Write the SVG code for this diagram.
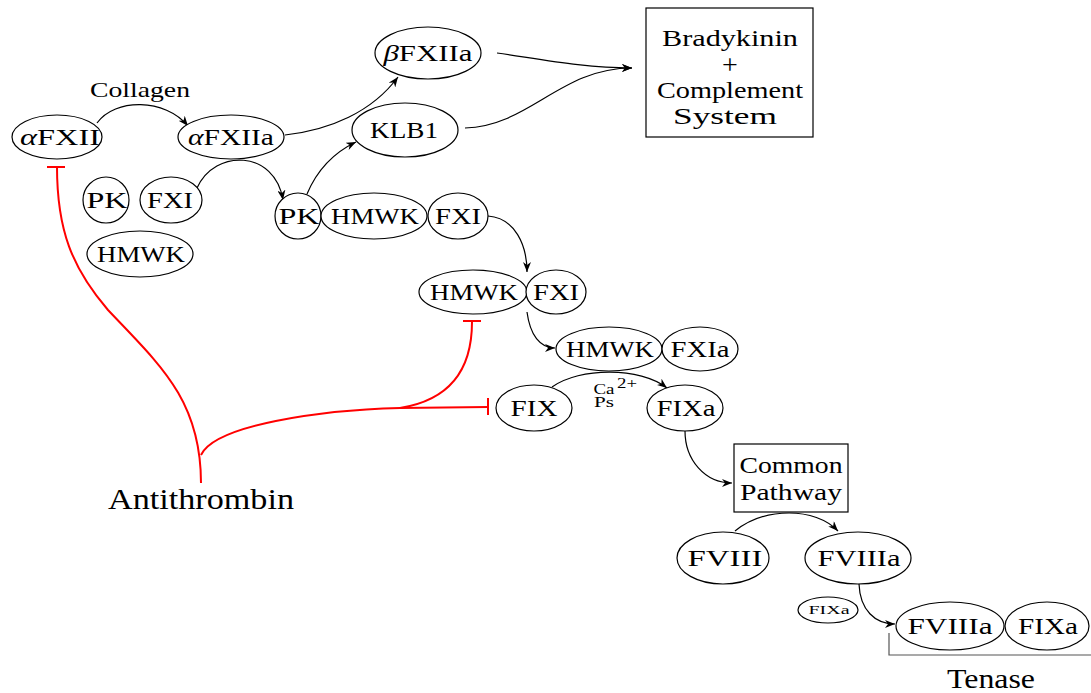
<svg xmlns="http://www.w3.org/2000/svg" width="1091" height="693" viewBox="0 0 1091 693">
<style>
  .n ellipse { fill: #fff; stroke: #000; stroke-width: 1.2; }
  .box { fill: #fff; stroke: #000; stroke-width: 1.2; }
  text { font-family: "Liberation Serif", "Times New Roman", serif; fill: #000; }
  .t { font-size: 23px; text-anchor: middle; }
  .s { font-size: 14px; text-anchor: middle; }
  .e { fill: none; stroke: #000; stroke-width: 1.2; marker-end: url(#arr); }
  .r { fill: none; stroke: #ff0000; stroke-width: 2; }
  .it { font-style: italic; }
</style>
<defs>
  <marker id="arr" viewBox="0 0 10 8" refX="10" refY="4" markerWidth="10" markerHeight="8" markerUnits="userSpaceOnUse" orient="auto">
    <path d="M0,0 L10,4 L0,8 L3,4 Z" fill="#000"/>
  </marker>
</defs>
<rect width="1091" height="693" fill="#fff"/>

<g id="connectors">
  <path class="e" d="M97,123 C115,98 165,98 188,126"/>
  <path class="e" d="M285,135 C330,130 372,112 398,77"/>
  <path class="e" d="M197,188 C215,148 275,150 283,200"/>
  <path class="e" d="M307,194 C318,168 335,152 356,142"/>
  <path class="e" d="M497,53 C545,60 585,68 632,68"/>
  <path class="e" d="M465,128 C530,126 560,68 632,68"/>
  <path class="e" d="M488,216 C515,218 527,245 527,272"/>
  <path class="e" d="M527,312 C530,335 540,348 555,348"/>
  <path class="e" d="M552,387 C580,367 640,367 667,388"/>
  <path class="e" d="M685,431 C685,460 705,483 732,483"/>
  <path class="e" d="M735,531 C765,507 815,507 838,531"/>
  <path class="e" d="M859,584 C860,610 875,624 895,624"/>
  <g id="inhibitors">
    <path class="r" d="M57,167 C57,230 72,268 108,310 C160,365 201,400 201,483"/>
    <path class="r" d="M47,167 L65,167"/>
    <path class="r" d="M201,455 C215,425 320,410 400,408 L488,407"/>
    <path class="r" d="M488,398 L488,415"/>
    <path class="r" d="M400,408 C450,400 472,370 472,322"/>
    <path class="r" d="M463,321 L481,321"/>
  </g>
  <path d="M889,633 L889,655 L1091,655" fill="none" stroke="#555" stroke-width="1.2"/>
</g>

<g id="aFXII" class="n"><ellipse cx="57" cy="137" rx="45" ry="22"/><text class="t" x="60" y="145" textLength="80" lengthAdjust="spacingAndGlyphs"><tspan class="it">α</tspan>FXII</text></g>
<g id="aFXIIa" class="n"><ellipse cx="231" cy="137" rx="53" ry="22"/><text class="t" x="231" y="145" textLength="86" lengthAdjust="spacingAndGlyphs"><tspan class="it">α</tspan>FXIIa</text></g>
<g id="collagen"><text class="t" x="140" y="97" style="font-size:21px" textLength="100" lengthAdjust="spacingAndGlyphs">Collagen</text></g>
<g id="PK1" class="n"><ellipse cx="106" cy="200" rx="23" ry="23"/><text class="t" x="107" y="208" textLength="41" lengthAdjust="spacingAndGlyphs">PK</text></g>
<g id="FXI1" class="n"><ellipse cx="171" cy="200" rx="31" ry="23"/><text class="t" x="170" y="208" textLength="46" lengthAdjust="spacingAndGlyphs">FXI</text></g>
<g id="HMWK1" class="n"><ellipse cx="140" cy="254" rx="53" ry="23"/><text class="t" x="141" y="262" textLength="88" lengthAdjust="spacingAndGlyphs">HMWK</text></g>
<g id="bFXIIa" class="n"><ellipse cx="428" cy="53" rx="53" ry="26"/><text class="t" x="428" y="61" textLength="89" lengthAdjust="spacingAndGlyphs"><tspan class="it">β</tspan>FXIIa</text></g>
<g id="KLB1" class="n"><ellipse cx="405" cy="130" rx="53" ry="27"/><text class="t" x="404" y="138" textLength="68" lengthAdjust="spacingAndGlyphs">KLB1</text></g>
<g id="PK2" class="n"><ellipse cx="298" cy="216" rx="23" ry="23"/><text class="t" x="299" y="224" textLength="41" lengthAdjust="spacingAndGlyphs">PK</text></g>
<g id="HMWK2" class="n"><ellipse cx="374" cy="216" rx="53" ry="23"/><text class="t" x="375" y="224" textLength="88" lengthAdjust="spacingAndGlyphs">HMWK</text></g>
<g id="FXI2" class="n"><ellipse cx="458" cy="216" rx="30" ry="23"/><text class="t" x="458" y="224" textLength="46" lengthAdjust="spacingAndGlyphs">FXI</text></g>
<g id="bradykinin">
  <rect class="box" x="646" y="8" width="167" height="129"/>
  <text class="t" x="730" y="46" textLength="136" lengthAdjust="spacingAndGlyphs">Bradykinin</text>
  <text class="t" x="730" y="74" style="font-size:28px;font-weight:300">+</text>
  <text class="t" x="730" y="98" textLength="146" lengthAdjust="spacingAndGlyphs">Complement</text>
  <text class="t" x="725" y="124" textLength="104" lengthAdjust="spacingAndGlyphs">System</text>
</g>
<g id="HMWK3" class="n"><ellipse cx="473" cy="292" rx="54" ry="22"/><text class="t" x="474" y="300" textLength="88" lengthAdjust="spacingAndGlyphs">HMWK</text></g>
<g id="FXI3" class="n"><ellipse cx="556" cy="292" rx="30" ry="22"/><text class="t" x="556" y="300" textLength="46" lengthAdjust="spacingAndGlyphs">FXI</text></g>
<g id="HMWK4" class="n"><ellipse cx="609" cy="349" rx="53" ry="22"/><text class="t" x="610" y="357" textLength="88" lengthAdjust="spacingAndGlyphs">HMWK</text></g>
<g id="FXIa" class="n"><ellipse cx="700" cy="349" rx="38" ry="22"/><text class="t" x="700" y="357" textLength="59" lengthAdjust="spacingAndGlyphs">FXIa</text></g>
<g id="FIX" class="n"><ellipse cx="534" cy="408" rx="38" ry="23"/><text class="t" x="534" y="416" textLength="47" lengthAdjust="spacingAndGlyphs">FIX</text></g>
<g id="FIXa" class="n"><ellipse cx="685" cy="408" rx="38" ry="23"/><text class="t" x="686" y="416" textLength="59" lengthAdjust="spacingAndGlyphs">FIXa</text></g>
<g id="cofactors">
  <text class="s" x="604" y="394" textLength="21" lengthAdjust="spacingAndGlyphs">Ca</text>
  <text class="s" x="627" y="388" textLength="20" lengthAdjust="spacingAndGlyphs">2+</text>
  <text class="s" x="604" y="407" textLength="20" lengthAdjust="spacingAndGlyphs">Ps</text>
</g>
<g id="common">
  <rect class="box" x="734" y="444" width="114" height="68"/>
  <text class="t" x="791" y="473" textLength="103" lengthAdjust="spacingAndGlyphs">Common</text>
  <text class="t" x="791" y="500" textLength="102" lengthAdjust="spacingAndGlyphs">Pathway</text>
</g>
<g id="FVIII" class="n"><ellipse cx="723" cy="558" rx="46" ry="26"/><text class="t" x="725" y="566" textLength="75" lengthAdjust="spacingAndGlyphs">FVIII</text></g>
<g id="FVIIIa" class="n"><ellipse cx="858" cy="558" rx="53" ry="26"/><text class="t" x="859" y="566" textLength="83" lengthAdjust="spacingAndGlyphs">FVIIIa</text></g>
<g id="FIXa_small" class="n"><ellipse cx="828" cy="610" rx="30" ry="13"/><text class="s" x="829" y="614" style="font-size:12px" textLength="41" lengthAdjust="spacingAndGlyphs">FIXa</text></g>
<g id="FVIIIa2" class="n"><ellipse cx="950" cy="626" rx="54" ry="24"/><text class="t" x="950" y="634" textLength="85" lengthAdjust="spacingAndGlyphs">FVIIIa</text></g>
<g id="FIXa2" class="n"><ellipse cx="1047" cy="626" rx="42" ry="24"/><text class="t" x="1048" y="634" textLength="60" lengthAdjust="spacingAndGlyphs">FIXa</text></g>
<g id="tenase"><text class="t" x="991" y="688" style="font-size:28px" textLength="88" lengthAdjust="spacingAndGlyphs">Tenase</text></g>
<g id="antithrombin"><text class="t" x="201" y="509" style="font-size:29px" textLength="186" lengthAdjust="spacingAndGlyphs">Antithrombin</text></g>
</svg>
